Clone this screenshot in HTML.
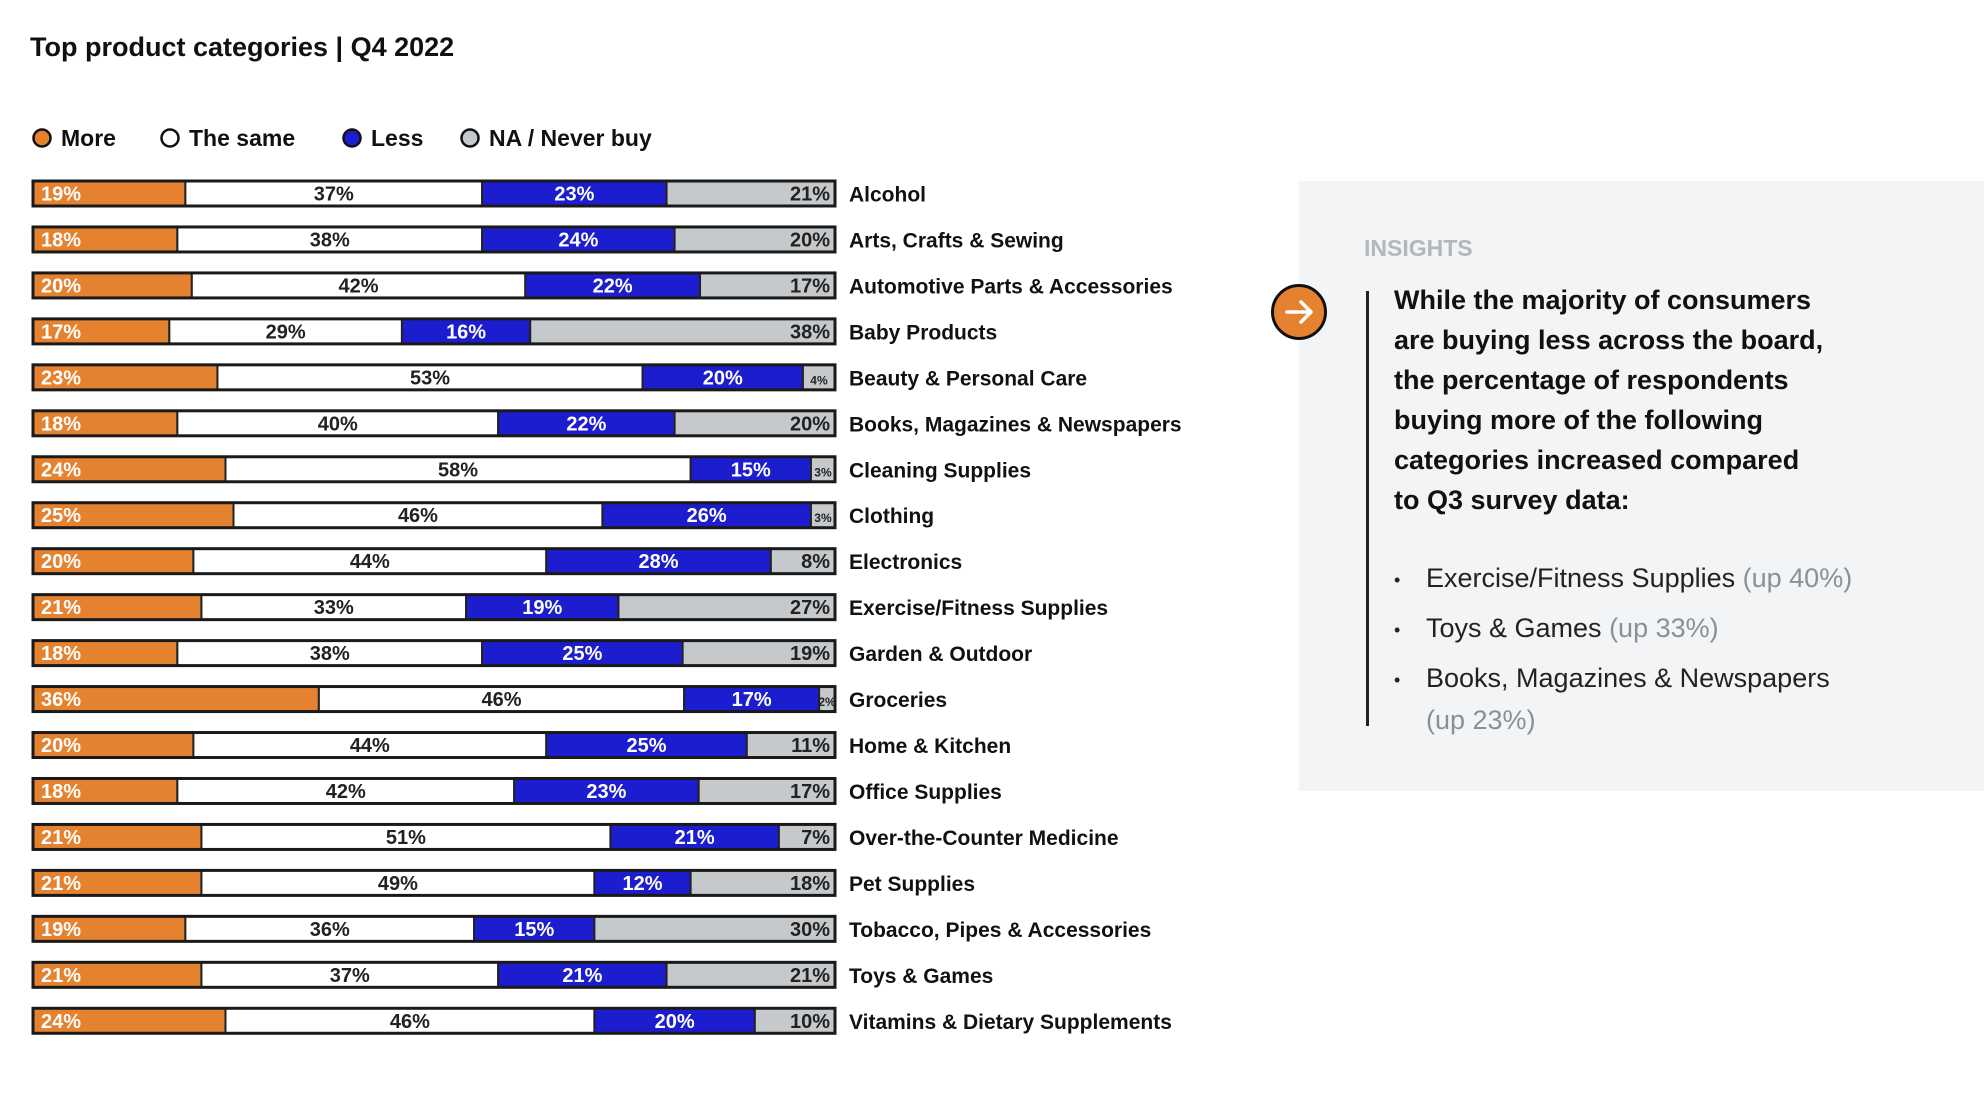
<!DOCTYPE html>
<html><head><meta charset="utf-8">
<style>
html,body{margin:0;padding:0;background:#fff;}
body{width:1984px;height:1114px;position:relative;overflow:hidden;font-family:"Liberation Sans",sans-serif;}
.abs{position:absolute;}
</style></head>
<body>
<div class="abs" style="left:30px;top:32px;font-size:27px;font-weight:bold;color:#111;">Top product categories | Q4 2022</div>

<div class="abs" style="left:1299px;top:181px;width:685px;height:610px;background:#f3f4f5;"></div>
<div class="abs" style="left:1364px;top:235px;font-size:23px;font-weight:bold;color:#b3b7bb;">INSIGHTS</div>
<div class="abs" style="left:1271px;top:284px;width:50px;height:50px;border-radius:50%;background:#e5822f;border:3px solid #111;">
<svg width="50" height="50" viewBox="0 0 50 50"><path d="M13 25 H36 M27 15 L37 25 L27 35" stroke="#fff" stroke-width="3.5" fill="none" stroke-linecap="round" stroke-linejoin="round"/></svg></div>
<div class="abs" style="left:1366px;top:291px;width:3px;height:435px;background:#222;"></div>
<div class="abs" style="left:1394px;top:280px;width:520px;font-size:27px;font-weight:bold;line-height:40px;color:#111;">While the majority of consumers<br>are buying less across the board,<br>the percentage of respondents<br>buying more of the following<br>categories increased compared<br>to Q3 survey data:</div>
<div class="abs" style="left:1394px;top:558px;font-size:27px;line-height:40px;color:#222;"><span style="display:inline-block;width:32px;font-size:18px;vertical-align:middle;">•</span>Exercise/Fitness Supplies <span style="color:#8a9097">(up 40%)</span></div>
<div class="abs" style="left:1394px;top:608px;font-size:27px;line-height:40px;color:#222;"><span style="display:inline-block;width:32px;font-size:18px;vertical-align:middle;">•</span>Toys &amp; Games <span style="color:#8a9097">(up 33%)</span></div>
<div class="abs" style="left:1394px;top:658px;font-size:27px;line-height:40px;color:#222;"><span style="display:inline-block;width:32px;font-size:18px;vertical-align:middle;">•</span>Books, Magazines &amp; Newspapers<br><span style="margin-left:32px;color:#8a9097">(up 23%)</span></div>

<svg id="chart" class="abs" style="left:0;top:0" width="1250" height="1114"></svg>

<script>
const categories=["Alcohol","Arts, Crafts & Sewing","Automotive Parts & Accessories","Baby Products","Beauty & Personal Care","Books, Magazines & Newspapers","Cleaning Supplies","Clothing","Electronics","Exercise/Fitness Supplies","Garden & Outdoor","Groceries","Home & Kitchen","Office Supplies","Over-the-Counter Medicine","Pet Supplies","Tobacco, Pipes & Accessories","Toys & Games","Vitamins & Dietary Supplements"];
const more=[19,18,20,17,23,18,24,25,20,21,18,36,20,18,21,21,19,21,24];
const same=[37,38,42,29,53,40,58,46,44,33,38,46,44,42,51,49,36,37,46];
const less=[23,24,22,16,20,22,15,26,28,19,25,17,25,23,21,12,15,21,20];
const na=[21,20,17,38,4,20,3,3,8,27,19,2,11,17,7,18,30,21,10];
const seriesNames=["More","The same","Less","NA / Never buy"];

const NS="http://www.w3.org/2000/svg";
const svg=document.getElementById('chart');
const X0=33,X1=835,Y0=193.5,STEP=45.96,BH=25;
const xs=(frac)=>X0+frac*(X1-X0);
const yc=(i)=>Y0+i*STEP;
const fills=["#e5822f","#ffffff","#1d1dd0","#c5c9cc"];
const txt=["#ffffff","#222","#ffffff","#222"];
function mk(t,a){const e=document.createElementNS(NS,t);for(const k in a)e.setAttribute(k,a[k]);svg.appendChild(e);return e;}

// legend
const legX=[42,170,352,470];
seriesNames.forEach((n,k)=>{
  const c=mk('circle',{cx:legX[k],cy:138,r:8.5,fill:fills[k],stroke:'#111','stroke-width':2.5});
  
  
  const t=mk('text',{x:legX[k]+19,y:146,'font-size':23,'font-weight':'bold',fill:'#111'});
  t.textContent=n;
  
  
});

categories.forEach((cat,i)=>{
  const vals=[more[i],same[i],less[i],na[i]];
  const tot=vals.reduce((a,b)=>a+b,0);
  const y=yc(i)-BH/2;
  let acc=0;
  vals.forEach((v,k)=>{
    const xa=xs(acc/tot),xb=xs((acc+v)/tot);acc+=v;
    const r=mk('rect',{x:xa,y:y,width:xb-xa,height:BH,fill:fills[k],stroke:'#222','stroke-width':2});
    
    
    const small=(xb-xa)<35;
    const fs=small?12:20;
    let tx,anchor;
    if(k===0){tx=xa+8;anchor='start';}
    else if(k===3){tx=xb-5;anchor='end';}
    else{tx=(xa+xb)/2;anchor='middle';}
    if(small){tx=(xa+xb)/2;anchor='middle';}
    const t=mk('text',{x:tx,y:yc(i)+7,'font-size':fs,'font-weight':'bold',fill:txt[k],'text-anchor':anchor});
    t.textContent=v+'%';
    
    
  });
  const ob=mk('rect',{x:X0,y:y,width:X1-X0,height:BH,fill:'none',stroke:'#1a1a1a','stroke-width':3});
  
  
  const l=mk('text',{x:849,y:yc(i)+8,'font-size':21,'font-weight':'bold',fill:'#111'});
  l.textContent=cat;
  
  
});
</script>
</body></html>
